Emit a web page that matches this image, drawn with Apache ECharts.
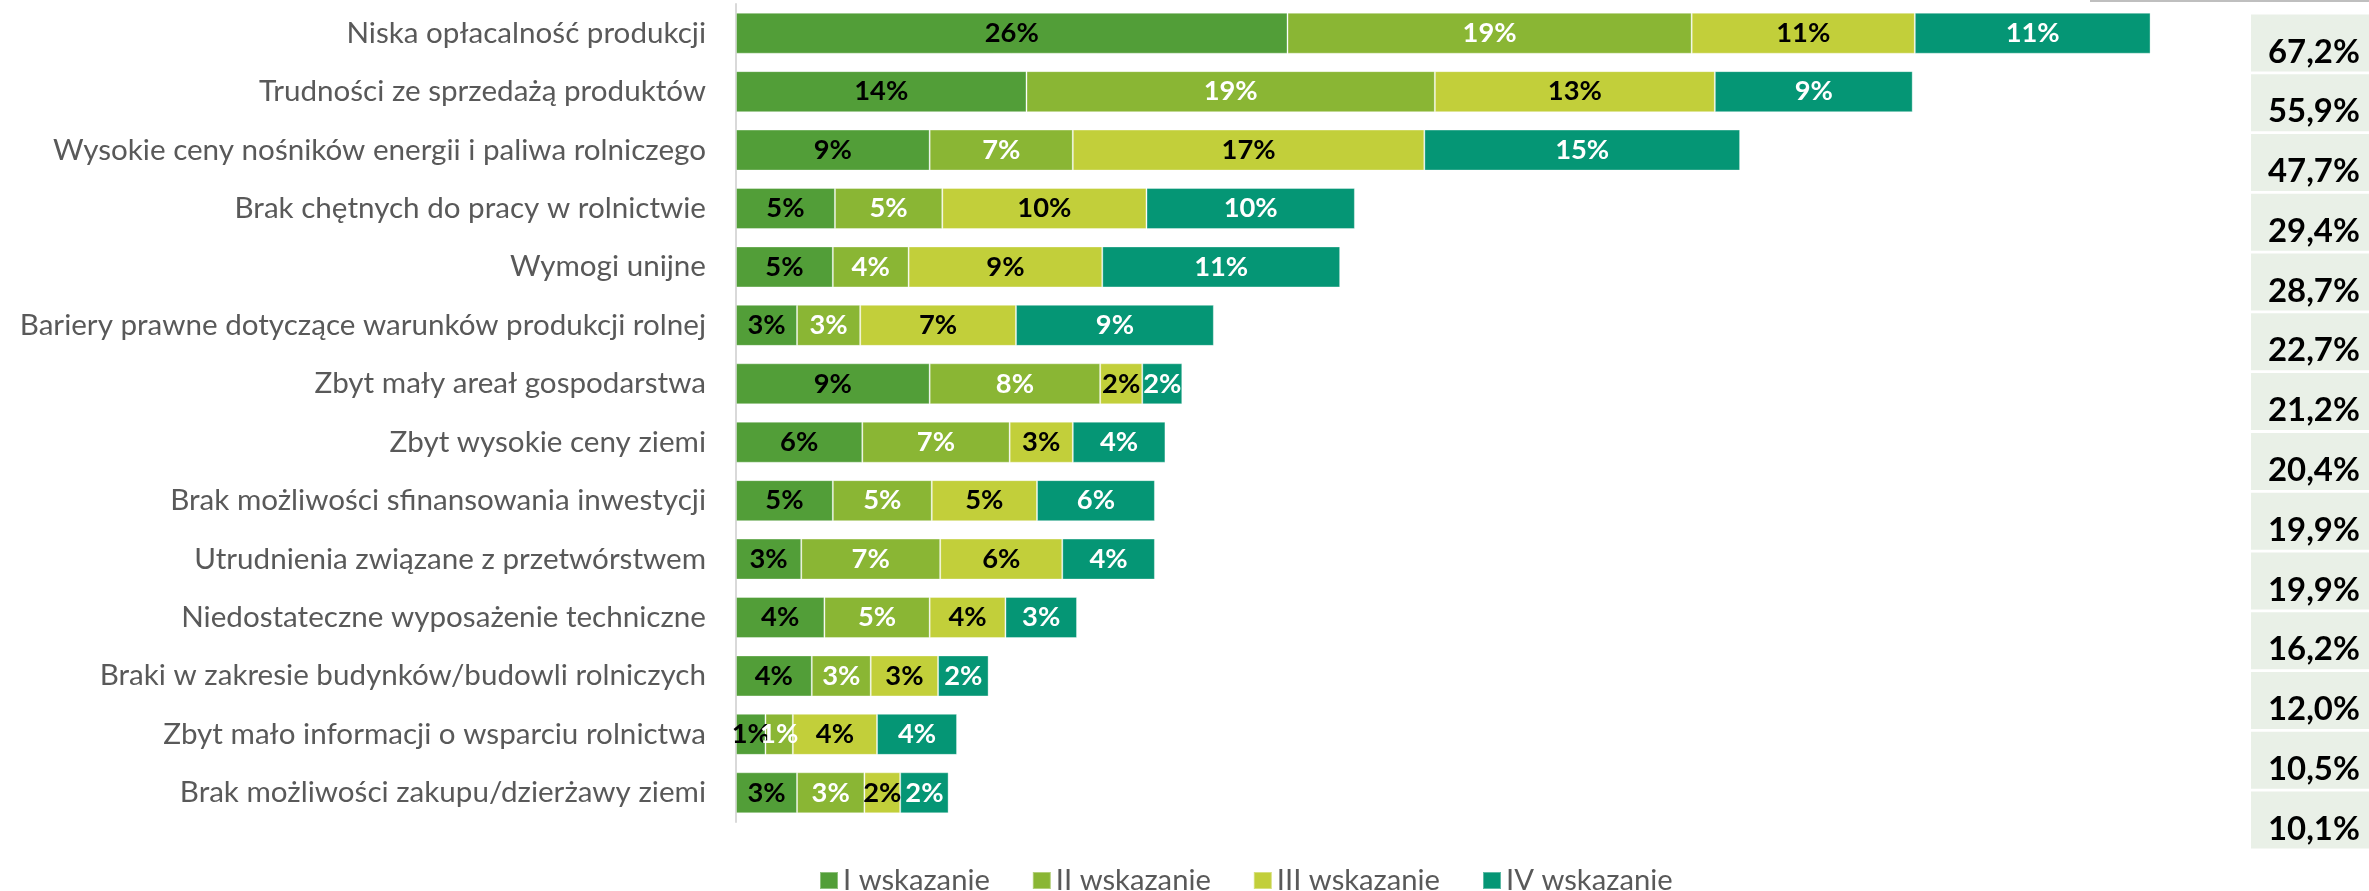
<!DOCTYPE html>
<html>
<head>
<meta charset="utf-8">
<script src="https://cdn.jsdelivr.net/npm/echarts@6/dist/echarts.min.js"></script>
<style>
html,body{margin:0;padding:0;background:#fff;}
#chart{width:2369px;height:891px;}
</style>
</head>
<body>
<div id="chart"></div>
<script>
const categories = [
  "Niska opłacalność produkcji",
  "Trudności ze sprzedażą produktów",
  "Wysokie ceny nośników energii i paliwa rolniczego",
  "Brak chętnych do pracy w rolnictwie",
  "Wymogi unijne",
  "Bariery prawne dotyczące warunków produkcji rolnej",
  "Zbyt mały areał gospodarstwa",
  "Zbyt wysokie ceny ziemi",
  "Brak możliwości sfinansowania inwestycji",
  "Utrudnienia związane z przetwórstwem",
  "Niedostateczne wyposażenie techniczne",
  "Braki w zakresie budynków/budowli rolniczych",
  "Zbyt mało informacji o wsparciu rolnictwa",
  "Brak możliwości zakupu/dzierżawy ziemi"
];
const seriesNames = ["I wskazanie", "II wskazanie", "III wskazanie", "IV wskazanie"];
const seriesI   = [26.2, 13.8, 9.2, 4.7, 4.6, 2.9, 9.2, 6.0, 4.6, 3.1, 4.2, 3.6, 1.4, 2.9];
const seriesII  = [19.2, 19.4, 6.8, 5.1, 3.6, 3.0, 8.1, 7.0, 4.7, 6.6, 5.0, 2.8, 1.3, 3.2];
const seriesIII = [10.6, 13.3, 16.7, 9.7, 9.2, 7.4, 2.0, 3.0, 5.0, 5.8, 3.6, 3.2, 4.0, 1.7];
const seriesIV  = [11.2, 9.4, 15.0, 9.9, 11.3, 9.4, 1.9, 4.4, 5.6, 4.4, 3.4, 2.4, 3.8, 2.3];
const totals    = [67.2, 55.9, 47.7, 29.4, 28.7, 22.7, 21.2, 20.4, 19.9, 19.9, 16.2, 12.0, 10.5, 10.1];

const colors = ["#529e38", "#8ab634", "#c2cf3a", "#059675"];
const labelColors = ["#000000", "#ffffff", "#000000", "#ffffff"];
const FONT = "Lato";

// font size fitting by measurement
const cv = document.createElement("canvas").getContext("2d");
function fit(text, weight, target) {
  cv.font = weight + " 100px " + FONT;
  return Math.round(100 * target / cv.measureText(text).width * 10) / 10;
}
const catSize = fit("Wysokie ceny nośników energii i paliwa rolniczego", "normal", 654);
const legSize = fit("III wskazanie", "normal", 163);
const lblSize = fit("26%", "bold", 54);
const totSize = fit("67,2%", "bold", 92);

const chart = echarts.init(document.getElementById("chart"), null, {renderer: "canvas"});
const data = [seriesI, seriesII, seriesIII, seriesIV];
const series = data.map((arr, i) => ({
  name: seriesNames[i],
  type: "bar",
  stack: "total",
  xAxisIndex: 0,
  yAxisIndex: 0,
  barWidth: 41,
  data: arr,
  itemStyle: {color: colors[i], borderColor: "rgba(255,255,255,0.35)", borderWidth: 1},
  label: {
    show: true,
    position: "inside",
    formatter: p => Math.round(p.value) + "%",
    color: labelColors[i],
    fontFamily: FONT,
    fontWeight: "bold",
    fontSize: lblSize
  },
  emphasis: {disabled: true}
}));
series.push({
  name: "Razem",
  type: "bar",
  xAxisIndex: 1,
  yAxisIndex: 1,
  barWidth: 57,
  data: totals,
  showBackground: true,
  backgroundStyle: {color: "#e9f0e7"},
  itemStyle: {color: "rgba(0,0,0,0)"},
  label: {
    show: true,
    position: "insideLeft",
    distance: 17,
    offset: [0, 9],
    formatter: p => p.value.toFixed(1).replace(".", ",") + "%",
    color: "#000",
    fontFamily: FONT,
    fontWeight: "bold",
    fontSize: totSize
  },
  emphasis: {disabled: true}
});

chart.setOption({
  animation: false,
  backgroundColor: "#ffffff",
  textStyle: {fontFamily: FONT},
  grid: [
    {left: 736, top: 4, width: 1473.5, height: 818},
    {left: 2251, top: 13, width: 118, height: 837}
  ],
  xAxis: [
    {gridIndex: 0, type: "value", min: 0, max: 70, show: false},
    {gridIndex: 1, type: "value", min: 0, max: 100, show: false}
  ],
  yAxis: [
    {
      gridIndex: 0, type: "category", data: categories, inverse: true,
      axisLine: {show: true, lineStyle: {color: "#d9d9d9", width: 2}},
      axisTick: {show: false},
      axisLabel: {margin: 30, color: "#595959", fontFamily: FONT, fontSize: catSize}
    },
    {gridIndex: 1, type: "category", data: categories, inverse: true, show: false}
  ],
  legend: {
    data: seriesNames,
    left: 819,
    top: 866,
    padding: 0,
    itemWidth: 18,
    itemHeight: 17,
    itemGap: 42,
    icon: "rect",
    textStyle: {color: "#595959", fontFamily: FONT, fontSize: legSize, lineHeight: 26},
    selectedMode: false
  },
  graphic: [
    {type: "rect", left: 2090, top: 0, shape: {width: 279, height: 2}, style: {fill: "#bfbfbf"}}
  ],
  series: series
});
</script>
</body>
</html>
